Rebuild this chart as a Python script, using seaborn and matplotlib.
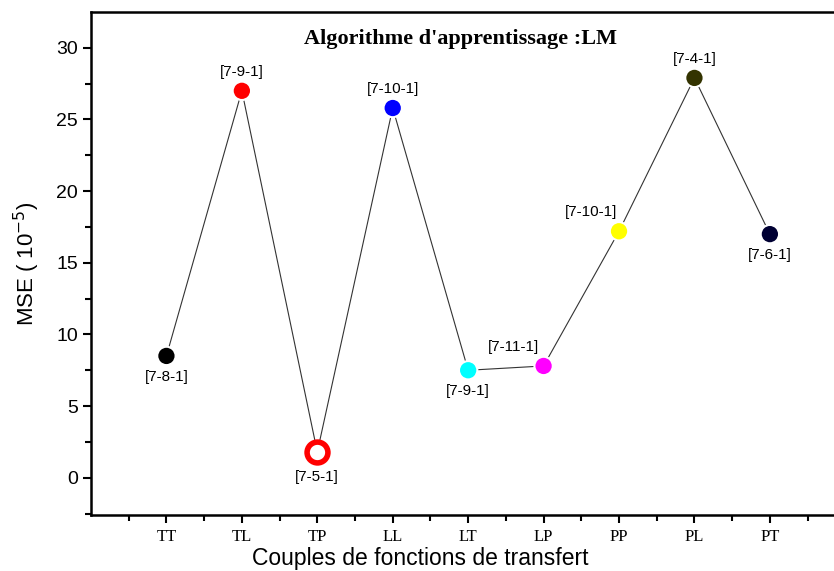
import numpy as np
import pandas as pd
import matplotlib.pyplot as plt
import seaborn as sns

# data
couples = ["TT", "TL", "TP", "LL", "LT", "LP", "PP", "PL", "PT"]
mse = [8.5, 27.0, 1.8, 25.8, 7.5, 7.8, 17.2, 27.9, 17.0]
archis = ["[7-8-1]", "[7-9-1]", "[7-5-1]", "[7-10-1]", "[7-9-1]",
          "[7-11-1]", "[7-10-1]", "[7-4-1]", "[7-6-1]"]
colors = ["#000000", "#ff0000", "#ff0000", "#0000ff", "#00ffff",
          "#ff00ff", "#ffff00", "#333300", "#000033"]
# label placement: (dx px, dy px)
offsets = [(0, -21), (0, 19), (0, -25), (0, 19), (0, -21),
           (-30, 19), (-28, 19), (0, 19), (0, -21)]

df = pd.DataFrame({"pos": np.arange(1, len(couples) + 1), "mse": mse,
                   "couple": couples})

sns.set_style("ticks")
plt.rcParams['font.family'] = ['Liberation Sans', 'DejaVu Sans']

fig = plt.figure(figsize=(8.34, 5.71), dpi=100)
ax = fig.add_axes([91 / 834, 1 - 515 / 571, 1 - 91 / 834, (515 - 12) / 571])

sns.lineplot(data=df, x="pos", y="mse", color="#333333", linewidth=0.8, ax=ax,
             zorder=1)

# filled markers, TP is a hollow ring
filled = df.drop(index=2)
sns.scatterplot(data=filled, x="pos", y="mse", hue="couple",
                palette=[c for i, c in enumerate(colors) if i != 2],
                s=175, edgecolor="white", linewidth=1.5, legend=False,
                ax=ax, zorder=3)
ax.plot(df.pos[2], df.mse[2], "o", ms=15, mfc="white", mec="#ff0000",
        mew=4, zorder=3)

for x, y, lab, (dx, dy) in zip(df.pos, df.mse, archis, offsets):
    ax.annotate(lab, (x, y), xytext=(dx * 0.72, dy * 0.72),
                textcoords="offset points", ha="center", va="center",
                fontsize=11, color="black")

ax.text(0.497, 0.947, "Algorithme d'apprentissage :LM", transform=ax.transAxes,
        ha="center", va="center", fontsize=16, fontweight="bold",
        family="Liberation Serif", color="black")

ax.set_xlim(0, 9.85)
ax.set_ylim(-2.6, 32.5)
ax.set_xticks(df.pos)
ax.set_xticklabels(couples, family="Liberation Serif")
ax.set_xticks(np.arange(0.5, 10, 1), minor=True)
ax.set_yticks([0, 5, 10, 15, 20, 25, 30])
ax.set_yticks(np.arange(-2.5, 32.5, 5), minor=True)
ax.tick_params(axis="both", which="major", length=6, width=1.5,
               direction="out", labelsize=14, color="black",
               labelcolor="black")
ax.tick_params(axis="both", which="minor", length=4, width=1.5,
               direction="out", color="black")
ax.tick_params(axis="x", pad=4, labelsize=12)

for side in ["left", "bottom", "top"]:
    ax.spines[side].set_linewidth(1.8)
    ax.spines[side].set_color("black")
ax.spines["right"].set_visible(False)

ax.set_xlabel("")
fig.text(420 / 834, 1 - 558 / 571, "Couples de fonctions de transfert",
         ha="center", va="center", fontsize=16.5, color="black")
ax.set_ylabel("MSE ( 10$^{-5}$)", fontsize=16, labelpad=10, color="black")

fig.savefig("out.png", dpi=100)
